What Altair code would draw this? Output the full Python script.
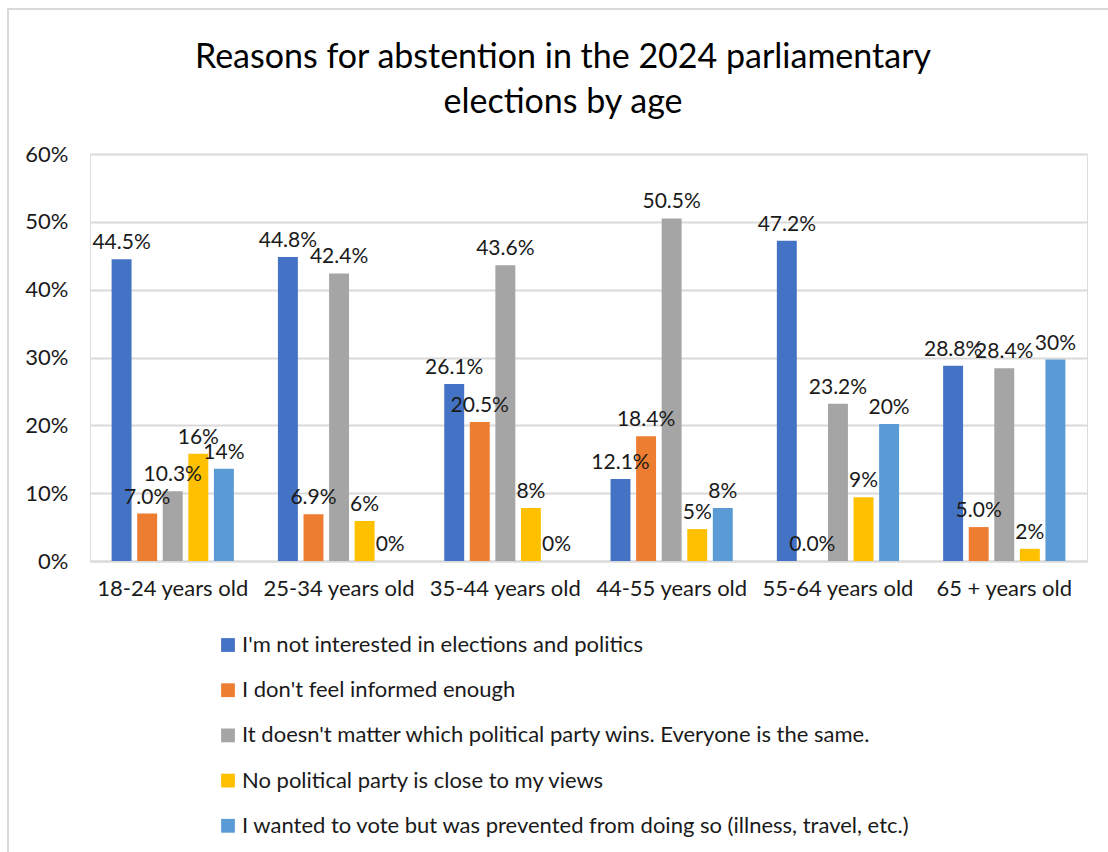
import altair as alt
import pandas as pd

ages = ["18-24 years old", "25-34 years old", "35-44 years old",
        "44-55 years old", "55-64 years old", "65 + years old"]
reasons = [
    "I'm not interested in elections and politics",
    "I don't feel informed enough",
    "It doesn't matter which political party wins. Everyone is the same.",
    "No political party is close to my views",
    "I wanted to vote but was prevented from doing so (illness, travel, etc.)",
]
colors = ["#4472C4", "#ED7D31", "#A5A5A5", "#FFC000", "#5B9BD5"]
title_lines = ["Reasons for abstention in the 2024 parliamentary", "elections by age"]

not_interested = [44.5, 44.8, 26.1, 12.1, 47.2, 28.8]
not_informed = [7.0, 6.9, 20.5, 18.4, 0.0, 5.0]
no_matter = [10.3, 42.4, 43.6, 50.5, 23.2, 28.4]
no_party = [15.8, 5.9, 7.8, 4.7, 9.4, 1.8]
prevented = [13.6, 0.0, 0.0, 7.8, 20.2, 29.7]
decimals = [1, 1, 1, 0, 0]
y_ticks = [0, 10, 20, 30, 40, 50, 60]

series = [not_interested, not_informed, no_matter, no_party, prevented]
rows = []
for r, vals, d in zip(reasons, series, decimals):
    for a, v in zip(ages, vals):
        rows.append({"age": a, "reason": r, "value": v, "label": f"{v:.{d}f}%"})
df = pd.DataFrame(rows)

FONT = "Lato"
TXT = "#1a1a1a"

x_enc = alt.X("age:N", sort=ages, title=None,
              scale=alt.Scale(paddingInner=0.265, paddingOuter=0.13),
              axis=alt.Axis(labelFontSize=22, labelColor=TXT, labelFont=FONT,
                            labelPadding=17, ticks=False, domainColor="#D9D9D9",
                            domainWidth=2, labelAngle=0))
xo = alt.XOffset("reason:N", sort=reasons, scale=alt.Scale(paddingInner=0.22))
y_enc = alt.Y("value:Q", title=None,
              scale=alt.Scale(domain=[0, 60], nice=False),
              axis=alt.Axis(values=y_ticks, labelExpr="datum.value + '%'",
                            labelFontSize=22, labelColor=TXT, labelFont=FONT,
                            labelPadding=22, ticks=False, domain=False,
                            gridColor="#D9D9D9", gridWidth=2))

bars = alt.Chart(df).mark_bar().encode(
    x=x_enc, xOffset=xo, y=y_enc,
    color=alt.Color("reason:N", sort=reasons,
                    scale=alt.Scale(domain=reasons, range=colors),
                    legend=alt.Legend(title=None, orient="none", legendX=127, legendY=480,
                                      direction="vertical", symbolType="square",
                                      symbolSize=190, symbolStrokeWidth=0,
                                      labelFontSize=22, labelFont=FONT, labelColor=TXT,
                                      labelOffset=3, rowPadding=23.2, labelLimit=900)),
)

labels = alt.Chart(df).mark_text(fontSize=21, font=FONT, color=TXT,
                                 baseline="bottom", dy=-6).encode(
    x=alt.X("age:N", sort=ages), xOffset=xo, y="value:Q", text="label:N"
)

one = pd.DataFrame({"k": [0]})
frame = alt.Chart(one).mark_rect(
    fill=None, stroke="#D9D9D9", strokeWidth=2, clip=False
).encode(x=alt.value(-82), x2=alt.value(1040), y=alt.value(-145), y2=alt.value(720))

title = alt.Chart(one).mark_text(
    fontSize=34, font=FONT, color="#000000", align="center", baseline="alphabetic",
    lineHeight=45
).encode(x=alt.value(473), y=alt.value(-86), text=alt.value(title_lines))

chart = alt.layer(frame, bars, labels, title).properties(
    width=997, height=407,
    autosize=alt.AutoSizeParams(type="none"),
    padding={"left": 90, "top": 154, "right": 21, "bottom": 291},
).configure_view(stroke=None).configure(background="white")

chart.save("out.html", embed_options={"renderer": "svg", "actions": False})
